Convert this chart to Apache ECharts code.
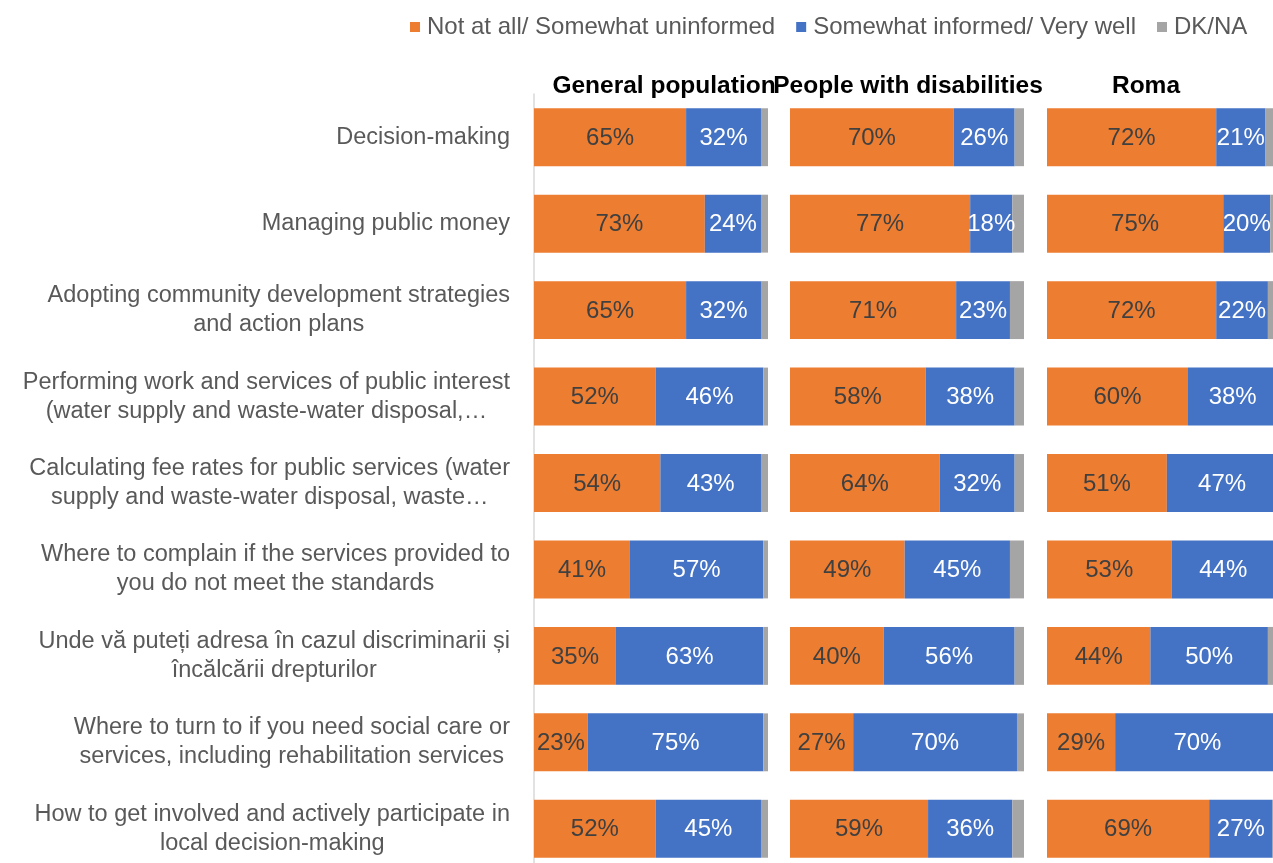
<!DOCTYPE html>
<html>
<head>
<meta charset="utf-8">
<script src="https://cdn.jsdelivr.net/npm/echarts@6/dist/echarts.min.js"></script>
<style>
  html, body { margin: 0; padding: 0; background: #ffffff; overflow: hidden; }
  #chart { width: 1282px; height: 872px; }
</style>
</head>
<body>
<div id="chart"></div>
<script>
// Survey items (top to bottom)
const categories = [
  'Decision-making',
  'Managing public money',
  'Adopting community development strategies\nand action plans',
  'Performing work and services of public interest\n(water supply and waste-water disposal,…',
  'Calculating fee rates for public services (water\nsupply and waste-water disposal, waste…',
  'Where to complain if the services provided to\nyou do not meet the standards',
  'Unde vă puteți adresa în cazul discriminarii și\nîncălcării drepturilor',
  'Where to turn to if you need social care or\nservices, including rehabilitation services',
  'How to get involved and actively participate in\nlocal decision-making'
];

const seriesNames = ['Not at all/ Somewhat uninformed', 'Somewhat informed/ Very well', 'DK/NA'];
const panelTitles = ['General population', 'People with disabilities', 'Roma'];

// General population (%)
const generalUninformed = [65, 73, 65, 52, 54, 41, 35, 23, 52];
const generalInformed   = [32, 24, 32, 46, 43, 57, 63, 75, 45];
const generalDkna       = [3, 3, 3, 2, 3, 2, 2, 2, 3];

// People with disabilities (%)
const disabledUninformed = [70, 77, 71, 58, 64, 49, 40, 27, 59];
const disabledInformed   = [26, 18, 23, 38, 32, 45, 56, 70, 36];
const disabledDkna       = [4, 5, 6, 4, 4, 6, 4, 3, 5];

// Roma (%)
const romaUninformed = [72, 75, 72, 60, 51, 53, 44, 29, 69];
const romaInformed   = [21, 20, 22, 38, 47, 44, 50, 70, 27];
const romaDkna       = [7, 5, 6, 2, 2, 3, 6, 1, 4];

const colors = ['#ED7D31', '#4472C4', '#A5A5A5'];
const FONT = '"Liberation Sans", Arial, sans-serif';

const panels = [
  [generalUninformed, generalInformed, generalDkna],
  [disabledUninformed, disabledInformed, disabledDkna],
  [romaUninformed, romaInformed, romaDkna]
];

const gridLefts = [534, 790, 1047];
const gridWidths = [234, 234, 235];
const titleCenters = [664, 908, 1146];

const grids = gridLefts.map((l, i) => ({
  left: l, width: gridWidths[i], top: 94, height: 778, containLabel: false
}));

const xAxes = grids.map((g, i) => ({
  type: 'value', gridIndex: i, min: 0, max: 100, show: false
}));

const yAxes = grids.map((g, i) => ({
  type: 'category',
  gridIndex: i,
  data: categories,
  inverse: true,
  axisTick: { show: false },
  axisLine: { show: i === 0, lineStyle: { color: '#d9d9d9', width: 1.5 } },
  axisLabel: i === 0 ? {
    show: true,
    margin: 24,
    interval: 0,
    formatter: v => v.split('\n').map(line => '{c|' + line + '}').join('\n'),
    rich: {
      c: { align: 'center', fontSize: 23.5, fontFamily: FONT, color: '#595959', lineHeight: 29 }
    }
  } : { show: false },
  splitLine: { show: false }
}));

const series = [];
panels.forEach((vals, p) => {
  vals.forEach((arr, k) => {
    series.push({
      name: seriesNames[k],
      type: 'bar',
      stack: 'panel' + p,
      xAxisIndex: p,
      yAxisIndex: p,
      barCategoryGap: '33%',
      data: arr,
      itemStyle: { color: colors[k] },
      label: {
        show: k < 2,
        position: 'inside',
        formatter: '{c}%',
        fontSize: 24,
        fontFamily: FONT,
        color: k === 0 ? '#404040' : '#ffffff',
        offset: [0, 1]
      },
      emphasis: { disabled: true }
    });
  });
});

const chart = echarts.init(document.getElementById('chart'));
chart.setOption({
  animation: false,
  backgroundColor: '#ffffff',
  title: panelTitles.map((t, i) => ({
    text: t,
    left: titleCenters[i],
    top: 74,
    padding: 0,
    textAlign: 'center',
    textStyle: { fontSize: 24.5, fontWeight: 'bold', fontFamily: FONT, color: '#000000' }
  })),
  legend: {
    data: seriesNames,
    left: 410,
    top: 15,
    padding: 0,
    icon: 'rect',
    itemWidth: 10,
    itemHeight: 10,
    itemGap: 21,
    textStyle: { fontSize: 24, fontFamily: FONT, color: '#595959', padding: [0, 0, 0, 2] }
  },
  grid: grids,
  xAxis: xAxes,
  yAxis: yAxes,
  series: series
});
</script>
</body>
</html>
